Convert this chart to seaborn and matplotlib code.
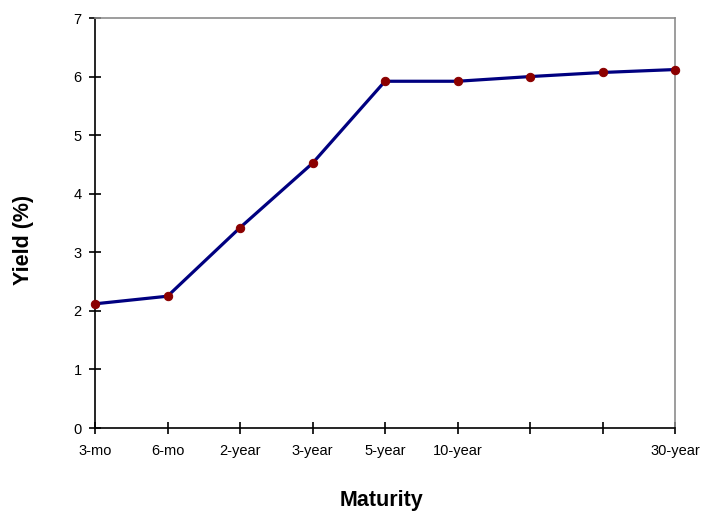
import matplotlib
matplotlib.use("Agg")
import matplotlib.pyplot as plt
import seaborn as sns
import pandas as pd

sns.set_style("white")
plt.rcParams["font.family"] = ["Liberation Sans", "DejaVu Sans"]

maturities = ["3-mo", "6-mo", "2-year", "3-year", "5-year", "10-year", "", "", "30-year"]
yields = [2.12, 2.25, 3.42, 4.52, 5.92, 5.92, 6.00, 6.07, 6.12]
y_ticks = [0, 1, 2, 3, 4, 5, 6, 7]

df = pd.DataFrame({"pos": range(len(maturities)), "yield": yields})

fig = plt.figure(figsize=(7.02, 5.12), dpi=100)
ax = fig.add_axes([95 / 702, 84 / 512, 580 / 702, 410 / 512])

sns.lineplot(data=df, x="pos", y="yield", ax=ax, color="#000080",
             linewidth=2.3, marker="o", markersize=6,
             markerfacecolor="#8B0000", markeredgecolor="#8B0000", zorder=3)

ax.set_xlim(0, len(maturities) - 1)
ax.set_ylim(0, 7)
ax.set_xticks(range(len(maturities)))
ax.set_xticklabels(maturities)
ax.set_yticks(y_ticks)

for side in ["left", "bottom"]:
    ax.spines[side].set_color("black")
    ax.spines[side].set_linewidth(1.2)
for side in ["top", "right"]:
    ax.spines[side].set_visible(True)
    ax.spines[side].set_color("#8c8c8c")
    ax.spines[side].set_linewidth(1.2)

ax.tick_params(axis="both", direction="inout", length=9, width=1.2,
               color="black", labelsize=10.5, labelcolor="black",
               bottom=True, left=True, top=False, right=False)
ax.tick_params(axis="x", pad=7)
ax.tick_params(axis="y", pad=5)
ax.grid(False)

ax.set_xlabel("Maturity", fontsize=15.5, fontweight="bold", color="black", va="center")
ax.set_ylabel("Yield (%)", fontsize=15.5, fontweight="bold", color="black", va="center")
ax.xaxis.set_label_coords(0.494, -0.178)
ax.yaxis.set_label_coords(-0.124, 0.459)
for l in ax.lines:
    l.set_clip_on(False)

fig.savefig("out.png", dpi=100, facecolor="white")
